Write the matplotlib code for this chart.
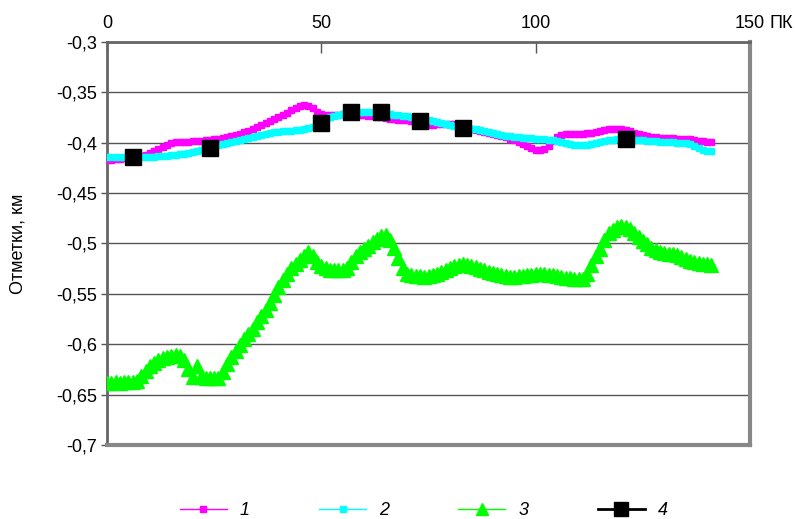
import matplotlib
matplotlib.use("Agg")
import matplotlib.pyplot as plt
from matplotlib.lines import Line2D

plt.rcParams['font.family'] = ['Liberation Sans', 'DejaVu Sans']

# picket numbers (ПК)
pk = list(range(142))

# series 1 (magenta)
s1 = [-0.417, -0.417, -0.416, -0.416, -0.415, -0.415, -0.414, -0.414, -0.413, -0.412,
      -0.410, -0.408, -0.406, -0.404, -0.402, -0.400, -0.399, -0.399, -0.399, -0.399,
      -0.398, -0.398, -0.398, -0.397, -0.397, -0.396, -0.396, -0.395, -0.394, -0.393,
      -0.392, -0.391, -0.389, -0.388, -0.386, -0.384, -0.382, -0.380, -0.378, -0.376,
      -0.374, -0.372, -0.370, -0.368, -0.366, -0.364, -0.363, -0.364, -0.366, -0.369,
      -0.371, -0.372, -0.372, -0.372, -0.372, -0.371, -0.371, -0.371, -0.371, -0.372,
      -0.372, -0.373, -0.373, -0.374, -0.374, -0.375, -0.376, -0.376, -0.377, -0.377,
      -0.377, -0.378, -0.379, -0.380, -0.381, -0.382, -0.382, -0.381, -0.381, -0.381,
      -0.381, -0.381, -0.382, -0.383, -0.385, -0.386, -0.387, -0.388, -0.389, -0.390,
      -0.391, -0.392, -0.393, -0.394, -0.396, -0.397, -0.399, -0.401, -0.403, -0.405,
      -0.407, -0.407, -0.406, -0.403, -0.398, -0.394, -0.392, -0.391, -0.391, -0.391,
      -0.391, -0.391, -0.390, -0.390, -0.389, -0.388, -0.387, -0.386, -0.386, -0.386,
      -0.386, -0.387, -0.388, -0.390, -0.391, -0.392, -0.393, -0.394, -0.394, -0.395,
      -0.395, -0.395, -0.395, -0.396, -0.396, -0.396, -0.396, -0.397, -0.398, -0.398,
      -0.399, -0.399]

# series 2 (cyan)
s2 = [-0.414, -0.414, -0.414, -0.414, -0.414, -0.414, -0.414, -0.414, -0.414, -0.414,
      -0.414, -0.414, -0.413, -0.413, -0.413, -0.412, -0.412, -0.411, -0.411, -0.410,
      -0.409, -0.408, -0.407, -0.405, -0.404, -0.403, -0.402, -0.401, -0.400, -0.399,
      -0.398, -0.397, -0.396, -0.395, -0.394, -0.393, -0.392, -0.391, -0.390, -0.389,
      -0.389, -0.388, -0.388, -0.388, -0.387, -0.387, -0.386, -0.385, -0.384, -0.382,
      -0.379, -0.376, -0.374, -0.373, -0.372, -0.371, -0.370, -0.370, -0.369, -0.369,
      -0.369, -0.369, -0.369, -0.370, -0.370, -0.370, -0.371, -0.372, -0.372, -0.373,
      -0.373, -0.374, -0.374, -0.375, -0.376, -0.377, -0.378, -0.379, -0.380, -0.381,
      -0.382, -0.383, -0.383, -0.384, -0.385, -0.386, -0.386, -0.387, -0.388, -0.389,
      -0.390, -0.391, -0.392, -0.393, -0.393, -0.394, -0.394, -0.395, -0.395, -0.395,
      -0.396, -0.396, -0.396, -0.397, -0.397, -0.398, -0.399, -0.400, -0.401, -0.402,
      -0.402, -0.402, -0.402, -0.401, -0.400, -0.399, -0.398, -0.397, -0.397, -0.396,
      -0.396, -0.396, -0.396, -0.397, -0.397, -0.397, -0.398, -0.398, -0.398, -0.399,
      -0.399, -0.399, -0.399, -0.400, -0.400, -0.400, -0.401, -0.403, -0.405, -0.407,
      -0.408, -0.408]

# series 3 (green)
s3 = [-0.638, -0.638, -0.637, -0.638, -0.637, -0.637, -0.637, -0.636, -0.632, -0.627,
      -0.622, -0.619, -0.616, -0.614, -0.613, -0.612, -0.611, -0.612, -0.616, -0.625,
      -0.633, -0.622, -0.633, -0.634, -0.634, -0.634, -0.634, -0.628, -0.620, -0.613,
      -0.607, -0.601, -0.595, -0.590, -0.585, -0.578, -0.572, -0.566, -0.559, -0.551,
      -0.543, -0.536, -0.530, -0.524, -0.520, -0.516, -0.512, -0.508, -0.512, -0.518,
      -0.522, -0.524, -0.526, -0.526, -0.526, -0.526, -0.524, -0.518, -0.512, -0.508,
      -0.505, -0.502, -0.499, -0.496, -0.493, -0.492, -0.497, -0.504, -0.514, -0.524,
      -0.530, -0.531, -0.532, -0.532, -0.533, -0.532, -0.531, -0.530, -0.528, -0.526,
      -0.524, -0.522, -0.521, -0.520, -0.521, -0.522, -0.523, -0.525, -0.526, -0.528,
      -0.529, -0.530, -0.531, -0.532, -0.533, -0.533, -0.532, -0.532, -0.531, -0.531,
      -0.530, -0.530, -0.530, -0.531, -0.531, -0.532, -0.533, -0.534, -0.534, -0.535,
      -0.535, -0.535, -0.530, -0.521, -0.512, -0.505, -0.497, -0.490, -0.487, -0.484,
      -0.483, -0.484, -0.486, -0.490, -0.494, -0.498, -0.501, -0.504, -0.506, -0.508,
      -0.509, -0.510, -0.510, -0.511, -0.513, -0.515, -0.517, -0.518, -0.519, -0.520,
      -0.520, -0.521]

# series 4 (black squares)
pk4 = [6, 24, 50, 57, 64, 73, 83, 121]
s4 = [-0.414, -0.405, -0.380, -0.369, -0.369, -0.378, -0.385, -0.396]

yticks = [-0.3, -0.35, -0.4, -0.45, -0.5, -0.55, -0.6, -0.65, -0.7]
ytick_labels = ['-0,3', '-0,35', '-0,4', '-0,45', '-0,5', '-0,55', '-0,6', '-0,65', '-0,7']
xticks = [0, 50, 100, 150]
xtick_labels = ['0', '50', '100', '150']

fig = plt.figure(figsize=(7.95, 5.19), dpi=100)
ax = fig.add_axes([0.1346, 0.1426, 0.8088, 0.7765])

ax.plot(pk, s1, color='#FF00FF', lw=1, marker='s', ms=3.8, mec='#FF00FF', zorder=3)
ax.plot(pk, s2, color='#00FFFF', lw=1, marker='s', ms=4.2, mec='#00FFFF', zorder=4)
ax.plot(pk, s3, color='#00FF00', lw=1, marker='^', ms=9.5, mec='#00FF00', zorder=5)
ax.plot(pk4, s4, color='black', ls='none', marker='s', ms=11, zorder=6)

fs = 13
ax.set_xlim(0, 150)
ax.set_ylim(-0.7, -0.3)
ax.set_yticks(yticks)
ax.set_yticklabels(ytick_labels, fontsize=fs)
ax.xaxis.tick_top()
ax.set_xticks(xticks)
ax.set_xticklabels(xtick_labels, fontsize=fs)
ax.tick_params(axis='x', direction='in', length=8, width=1, color='#555555', pad=7)
ax.tick_params(axis='y', direction='out', length=4, width=1, color='#555555', pad=3)
ax.annotate('ПК', xy=(1, 1), xycoords='axes fraction', xytext=(14, 7),
            textcoords='offset points', fontsize=fs, va='bottom', ha='left')

ax.grid(axis='y', color='#555555', lw=1)
ax.set_axisbelow(True)
for side in ['left', 'top']:
    ax.spines[side].set_color('#666666')
    ax.spines[side].set_linewidth(2)
for side in ['right', 'bottom']:
    ax.spines[side].set_color('#888888')
    ax.spines[side].set_linewidth(3)

ax.set_ylabel('Отметки, км', fontsize=fs)
ax.yaxis.set_label_coords(-0.125, 0.5)

handles = [
    Line2D([], [], color='#FF00FF', lw=1, marker='s', ms=4),
    Line2D([], [], color='#00FFFF', lw=1, marker='s', ms=4),
    Line2D([], [], color='#00FF00', lw=1, marker='^', ms=9),
    Line2D([], [], color='black', lw=2, marker='s', ms=10),
]
fig.legend(handles, ['1', '2', '3', '4'], loc='center', bbox_to_anchor=(0.533, 0.016),
           ncol=4, frameon=False, handlelength=2.6, handletextpad=0.72,
           columnspacing=3.85, prop={'style': 'italic', 'size': fs})

fig.savefig('out.png', dpi=100)
